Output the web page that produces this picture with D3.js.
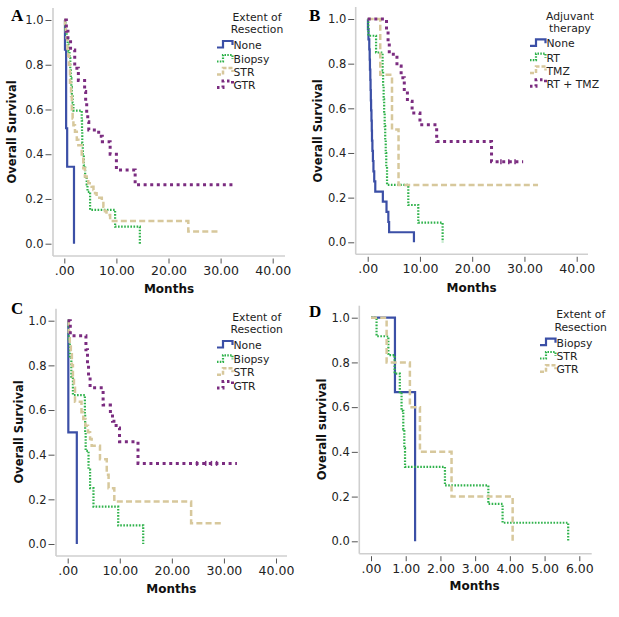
<!DOCTYPE html>
<html><head><meta charset="utf-8">
<script src="https://cdn.jsdelivr.net/npm/d3@7"></script>
<style>body{margin:0;background:#fff}svg{display:block}</style>
</head><body>
<svg id="chart" width="619" height="617"></svg>
<script>
// ---------- DATA (months, survival proportion) ----------
// Panel A: Extent of Resection
const A_none_t   = [0.13, 0.35, 0.55, 1.86];
const A_none_s   = [0.867, 0.516, 0.344, 0];
const A_biopsy_t = [0.2,0.45,0.65,0.8,1.0,1.15,1.25,1.35,1.45,1.6,1.75,3.35,3.4,3.45,3.55,3.75,4.0,4.3,4.45,4.95,9.75,14.5];
const A_biopsy_s = [0.96,0.92,0.89,0.86,0.83,0.78,0.74,0.70,0.665,0.63,0.595,0.55,0.50,0.45,0.40,0.35,0.30,0.265,0.232,0.151,0.076,0];
const A_str_t    = [0.15,0.3,0.45,0.6,0.75,0.9,1.1,1.3,1.45,1.6,1.75,2.05,2.4,2.7,3.35,3.65,3.95,4.3,4.6,5.25,5.6,5.9,6.2,7.2,7.5,7.8,8.1,8.8,23.8];
const A_str_s    = [0.97,0.95,0.92,0.87,0.84,0.80,0.72,0.66,0.60,0.56,0.53,0.50,0.465,0.44,0.38,0.337,0.30,0.285,0.27,0.255,0.24,0.225,0.205,0.188,0.165,0.145,0.128,0.101,0.054];
const A_str_end  = 29.6;
const A_gtr_t    = [0.4,0.7,1.2,2.0,2.7,3.9,4.1,4.3,4.5,4.7,6.6,7.3,8.8,10.0,13.6];
const A_gtr_s    = [0.95,0.91,0.866,0.784,0.73,0.68,0.63,0.58,0.545,0.508,0.48,0.456,0.40,0.33,0.263];
const A_gtr_end  = 32.8;

// Panel B: Adjuvant therapy
const B_none_t   = [0.05,0.15,0.3,0.38,0.43,0.5,0.55,0.6,0.65,0.72,0.78,0.82,0.9,1.0,1.1,1.25,1.45,2.9,3.6,3.95,4.1,8.85];
const B_none_s   = [0.955,0.909,0.864,0.818,0.773,0.727,0.682,0.636,0.591,0.545,0.5,0.455,0.409,0.364,0.318,0.273,0.227,0.182,0.136,0.091,0.045,0];
const B_rt_t     = [0.12,1.6,2.85,2.95,3.05,3.15,3.25,3.35,3.45,3.55,3.7,7.77,9.68,14.34];
const B_rt_s     = [0.925,0.85,0.77,0.70,0.64,0.58,0.52,0.46,0.40,0.34,0.257,0.167,0.088,0];
const B_tmz_t    = [2.4, 4.65, 5.9];
const B_tmz_s    = [0.75, 0.505, 0.257];
const B_tmz_end  = 32.6;
const B_rttmz_t  = [3.6,3.9,4.13,5.6,6.4,7.0,7.6,8.5,10.0,13.2,23.7];
const B_rttmz_s  = [0.947,0.895,0.842,0.789,0.737,0.684,0.632,0.579,0.526,0.451,0.361];
const B_rttmz_end = 29.75;
const B_rttmz_cens = [25.5, 27.0, 28.2];

// Panel C: Extent of Resection
const C_none_t   = [0.12, 1.75];
const C_none_s   = [0.5, 0];
const C_biopsy_t = [0.2,0.4,0.7,1.0,3.3,3.35,3.45,4.0,4.3,4.95,9.7,14.5];
const C_biopsy_s = [0.917,0.833,0.75,0.667,0.583,0.5,0.417,0.333,0.25,0.167,0.083,0];
const C_str_t    = [0.2,0.4,0.6,0.8,1.0,1.2,1.4,2.65,3.0,3.4,3.9,4.3,4.6,6.2,7.5,7.85,8.95,23.7];
const C_str_s    = [0.95,0.90,0.85,0.80,0.75,0.70,0.637,0.59,0.56,0.53,0.50,0.47,0.44,0.38,0.31,0.25,0.19,0.093];
const C_str_end  = 29.7;
const C_gtr_t    = [0.5,3.5,3.8,4.0,4.3,6.8,8.2,8.6,9.3,9.95,13.5];
const C_gtr_s    = [0.933,0.87,0.80,0.75,0.70,0.622,0.58,0.55,0.52,0.458,0.361];
const C_gtr_end  = 32.5;
const C_gtr_cens = [24.8, 26.5, 27.6, 28.6];

// Panel D: Extent of Resection
const D_biopsy_t = [0.69, 1.27];
const D_biopsy_s = [0.667, 0];
const D_str_t    = [0.16,0.5,0.68,0.83,0.88,0.93,0.96,0.98,2.13,3.38,3.79,5.68];
const D_str_s    = [0.917,0.833,0.75,0.667,0.583,0.5,0.417,0.333,0.25,0.167,0.083,0];
const D_gtr_t    = [0.45,1.12,1.41,2.32,4.08];
const D_gtr_s    = [0.8,0.6,0.4,0.2,0];

// Tick labels
const yTicks   = [0, 0.2, 0.4, 0.6, 0.8, 1.0];
const xTicksAC = [0, 10, 20, 30, 40];
const xTicksD  = [0, 1, 2, 3, 4, 5, 6];

// Legend labels
const legendA = ["None", "Biopsy", "STR", "GTR"];
const legendB = ["None", "RT", "TMZ", "RT + TMZ"];
const legendD = ["Biopsy", "STR", "GTR"];

// ---------- STYLES ----------
const ST = {
  blue:   {stroke:"#3b4fa6", w:2.2, dash:null,       ldash:null},
  green:  {stroke:"#2fb24b", w:2.2, dash:"1.6,1.5",  ldash:"1.5,1.3"},
  tan:    {stroke:"#d7c89c", w:2.5, dash:"6,3.2",    ldash:"4,2"},
  purple: {stroke:"#7b2c80", w:3,   dash:"3,3.6",    ldash:"2.5,3"}
};

const panels = [
  {letter:"A", lx:11, ly:21, xmax:40, xr:[64.3,272.7], yr:[243.7,20], axL:53, axR:285, axB:256,
   xticks:xTicksAC, ylab:"Overall Survival", ylx:12, yly:132, mx:169, my:292.7,
   legTitle:["Extent of","Resection"], ltx:257, lty:[20.5,33], lsx:217, lby:[49,63,76,89],
   series:[
     {t:A_none_t,s:A_none_s,st:"blue",name:legendA[0]},
     {t:A_biopsy_t,s:A_biopsy_s,st:"green",name:legendA[1]},
     {t:A_str_t,s:A_str_s,end:A_str_end,st:"tan",name:legendA[2]},
     {t:A_gtr_t,s:A_gtr_s,end:A_gtr_end,st:"purple",name:legendA[3]}]},
  {letter:"B", lx:309, ly:20.5, xmax:40, xr:[367.7,576.7], yr:[242.3,19], axL:355.7, axR:588, axB:254.3,
   xticks:xTicksAC, ylab:"Overall Survival", ylx:318, yly:131, mx:471.7, my:291.7,
   legTitle:["Adjuvant","therapy"], ltx:570, lty:[19.5,31.8], lsx:530, lby:[47.3,61.7,74.5,87.8],
   series:[
     {t:B_none_t,s:B_none_s,st:"blue",name:legendB[0]},
     {t:B_rt_t,s:B_rt_s,st:"green",name:legendB[1]},
     {t:B_tmz_t,s:B_tmz_s,end:B_tmz_end,st:"tan",name:legendB[2]},
     {t:B_rttmz_t,s:B_rttmz_s,end:B_rttmz_end,cens:B_rttmz_cens,st:"purple",name:legendB[3]}]},
  {letter:"C", lx:11, ly:313.5, xmax:40, xr:[67.7,276], yr:[544,320.7], axL:56, axR:287, axB:556,
   xticks:xTicksAC, ylab:"Overall Survival", ylx:19, yly:432, mx:171.3, my:593.3,
   legTitle:["Extent of","Resection"], ltx:256.7, lty:[320.5,333], lsx:217, lby:[349,363.3,376.3,389.6],
   series:[
     {t:C_none_t,s:C_none_s,st:"blue",name:legendA[0]},
     {t:C_biopsy_t,s:C_biopsy_s,st:"green",name:legendA[1]},
     {t:C_str_t,s:C_str_s,end:C_str_end,st:"tan",name:legendA[2]},
     {t:C_gtr_t,s:C_gtr_s,end:C_gtr_end,cens:C_gtr_cens,st:"purple",name:legendA[3]}]},
  {letter:"D", lx:309, ly:317, xmax:6, xr:[371,579.3], yr:[541.3,317.7], axL:359.3, axR:591.7, axB:553.7,
   xticks:xTicksD, ylab:"Overall survival", ylx:321.7, yly:429.5, mx:474.7, my:590,
   legTitle:["Extent of","Resection"], ltx:580.7, lty:[318,330.5], lsx:540, lby:[346.7,360,373.3],
   series:[
     {t:D_biopsy_t,s:D_biopsy_s,st:"blue",name:legendD[0]},
     {t:D_str_t,s:D_str_s,st:"green",name:legendD[1]},
     {t:D_gtr_t,s:D_gtr_s,st:"tan",name:legendD[2]}]}
];

const svg = d3.select("#chart");
svg.append("rect").attr("width",619).attr("height",617).attr("fill","#fff");
const FONT = "'DejaVu Sans', 'Noto Sans', sans-serif";
const xfmt = v => v === 0 ? ".00" : d3.format(".2f")(v);

panels.forEach(p => {
  const g = svg.append("g");
  const x = d3.scaleLinear().domain([0, p.xmax]).range(p.xr);
  const y = d3.scaleLinear().domain([0, 1]).range(p.yr);

  // axis lines
  g.append("line").attr("x1",p.axL).attr("x2",p.axR).attr("y1",p.axB).attr("y2",p.axB)
    .attr("stroke","#cfcfcf").attr("stroke-width",1.6);
  g.append("line").attr("x1",p.axL).attr("x2",p.axL).attr("y1",y(1)-12).attr("y2",p.axB)
    .attr("stroke","#cfcfcf").attr("stroke-width",1.6);

  const xa = g.append("g").attr("transform",`translate(0,${p.axB+2.5})`)
    .call(d3.axisBottom(x).tickValues(p.xticks).tickFormat(xfmt).tickSize(5).tickPadding(2.5));
  const ya = g.append("g").attr("transform",`translate(${p.axL-1.5},0)`)
    .call(d3.axisLeft(y).tickValues(yTicks).tickFormat(d3.format(".1f")).tickSize(6).tickPadding(2));
  [xa, ya].forEach(a => {
    a.select(".domain").remove();
    a.selectAll("line").attr("stroke","#555").attr("stroke-width",1);
    a.selectAll("text").attr("fill","#222").style("font-family",FONT);
  });
  xa.selectAll("text").style("font-size","12.5px");
  ya.selectAll("text").style("font-size","11.5px");

  // curves
  const line = d3.line().x(d => x(d[0])).y(d => y(d[1])).curve(d3.curveStepAfter);
  p.series.forEach(se => {
    const pts = [[0,1]].concat(se.t.map((t,i) => [t, se.s[i]]));
    if (se.end !== undefined) pts.push([se.end, se.s[se.s.length-1]]);
    const st = ST[se.st];
    g.append("path").attr("d", line(pts)).attr("fill","none")
      .attr("stroke", st.stroke).attr("stroke-width", st.w)
      .attr("stroke-dasharray", st.dash).attr("stroke-linejoin","miter");
    if (se.cens) {
      const last = se.s[se.s.length-1];
      se.cens.forEach(c => {
        g.append("line").attr("x1",x(c)).attr("x2",x(c)).attr("y1",y(last)-2.5).attr("y2",y(last)+2.5)
          .attr("stroke",st.stroke).attr("stroke-width",1.5);
      });
    }
  });

  // legend
  p.legTitle.forEach((tx,i) => {
    g.append("text").attr("x",p.ltx).attr("y",p.lty[i]).attr("text-anchor","middle")
      .style("font-family",FONT).style("font-size","10.8px").attr("fill","#222").text(tx);
  });
  p.series.forEach((se,i) => {
    const b = p.lby[i], sx = p.lsx, st = ST[se.st];
    g.append("path").attr("d",`M${sx},${b-1.5}H${sx+6}V${b-8}H${sx+15.5}V${b-4}`)
      .attr("fill","none").attr("stroke",st.stroke).attr("stroke-width",st.w)
      .attr("stroke-dasharray", st.ldash);
    g.append("text").attr("x",sx+16.5).attr("y",b)
      .style("font-family",FONT).style("font-size","10.8px").attr("fill","#222").text(se.name);
  });

  // axis titles
  g.append("text").attr("x",p.mx).attr("y",p.my).attr("text-anchor","middle")
    .style("font-family",FONT).style("font-size","12px").style("font-weight","bold").attr("fill","#111").text("Months");
  g.append("text").attr("transform",`translate(${p.ylx},${p.yly}) rotate(-90)`)
    .attr("text-anchor","middle").attr("dy","0.36em")
    .style("font-family",FONT).style("font-size","11.5px").style("font-weight","bold").attr("fill","#111").text(p.ylab);

  // panel letter
  g.append("text").attr("x",p.lx).attr("y",p.ly)
    .style("font-family","'Liberation Serif','Times New Roman',serif").style("font-size","17px")
    .style("font-weight","bold").attr("fill","#000").text(p.letter);
});
</script>
</body></html>
